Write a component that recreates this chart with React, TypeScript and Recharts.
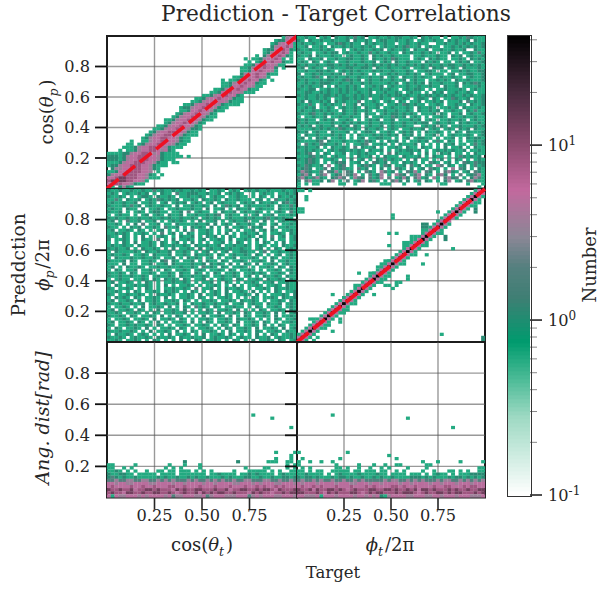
import React from "react";
import { ScatterChart, Scatter, XAxis, YAxis, ReferenceLine, ReferenceArea } from "recharts";

const FONT = "'DejaVu Serif', serif";
const INK = "#262626";

// level code (digit in the rows below) -> bin count
const levelCounts = [0, 0.6, 1.1, 1.9, 3.6, 5, 8, 13, 38];

const xTicks = [0.25, 0.5, 0.75];
const yTicks = [0.2, 0.4, 0.6, 0.8];
const identity = [0, 1];
const barTicks = [0.2, 0.3, 0.4, 0.5, 0.6, 0.7, 0.8, 0.9, 1, 2, 3, 4, 5, 6, 7, 8, 9, 10, 20, 30, 40, 0.1];
const barMajor = [0.1, 1, 10];
const barExp: Record<string, string> = { "0.1": "-1", "1": "0", "10": "1" };

// rows read top to bottom, "col:codes" segments; "." is an empty bin
const cosCos = [
  "46:1455", "44:122555", "43:1245551", "43:2455651", "41:122556521", "41:12455651", "39:1.24556521",
  "36:1.112455651.1", "37:1.1255655211", "36:11255655411", "35:1124556552.1", "35:1125565541",
  "35:2455655211", "33:1124556541", "30:1.1125565521.1", "30:112455655211", "30:11255655411",
  "28:112455655211", "27:112556554111", "25:11245565521", "23:1124556554211", "22:11245565542111",
  "20:112455655421111", "19:1224556554211", "19:112556554211", "18:12455655421", "17:124556554211",
  "15:1124556554211", "15:12455655421", "13:112455655421", "12:1124556554221", "11:1245566554211",
  "10:12455665542111", "9:1245566554211", "6:1..1145566554211", "5:11.1245566554211", "4:1112455665542111",
  "3:1.1124556654521", "0:1111224556654521111", "0:22212455666554211111.1", "0:222124556665542111",
  "0:1112455666554211.11", "0:1224556665542111", "1:2445566655421", "0:112556666554.1", "0:2455666655421.1",
  "0:55677666554111", "0:67777665541", "0:5666554211", "1:1.2421",
];

const phiPhi = [
  "0:11.1 47:158", "46:1585", "2:1 45:15851", "2:1 44:15851", "43:158511", "42:158511",
  "0:11 41:15851 47:2", "0:11 37:1 40:15851 47:2", "25:1 39:15851", "25:1 38:15851", "37:1585",
  "33:22 36:15851", "33:22 35:15851", "33:1 34:15851", "24:1 26:1 33:158511", "30:11 32:15851 39:2", "30:1 31:15851 39:2",
  "28:11 30:15851", "24:1 28:1 29:158511", "28:15851 41:1", "27:15851", "26:158511 34:1", "25:15851",
  "23:11 24:15851", "22:11 23:158511 33:1", "21:11 22:15851", "21:15851", "16:1 19:11 20:15851", "19:158511 29:1",
  "18:158511 29:1", "17:158511 26:11", "15:1 16:15851 23:11 26:1", "15:15851 25:1", "14:15851",
  "9:1 13:15851 20:1", "12:15851", "11:15851", "10:158511", "9:15851", "8:15851 13:1", "7:158511",
  "6:15851", "3:11 5:15851 11:1", "4:15851 11:1", "3:15851 8:1", "2:158511", "1:15851 9:1",
  "0:15851 38:1", "0:5851 5:1 49:2", "0:851 4:1 49:2",
];

const phiCos = [
  "11211.121.21121312.1121121221121.21211.1.1121321112",
  "21.21121121112.21121.1221121121.1211211.212112.2112",
  "1211211.112321211.21211211.11211211..11211212121121",
  "112.1121.211212112121.12112123112.1211.112121212121",
  "2112112121..1.121211212.121121.2112.112112112..2112",
  "1211.112122.121121131211211.212112121.112.1.1121312",
  "2112.2111211.121121.2121121111.112111211.212.121121",
  "11.2112.11211221121.2112132111.121.21211.1121.21211",
  "121.21.121.1121112112.121.2112111.2121.11.1212.1121",
  "21211211221212121121212121211212121211212211212121",
  "12.1211.121112211221.211211121.1121.212.121.2111211",
  "1121122121.12121211121211211121.11221.11.1121211221",
  "2.1121211212.121121.1.11212112121.12111.12.11221121",
  "1211231.212112112112112.121.21121211.1211211.121121",
  "21211121221123212.12112112112.1211.112121.211211121",
  "112121222112112112121111212.121212.21121112.2123211",
  "1212112.1.2112121.11212.12111211211211.2112.1111212",
  "21122.112112121211121121211.121221.1.11211121.12112",
  "11221121211212112112.1121121.1211.1.212.1121121.112",
  "21211212212121121212112121221211212212121211212112",
  "112112121.112212121.11211.1121.1221.21.1132112.1121",
  "12.211212.2121113.1121.121.21.112.11212.1112.312121",
  "21131.121211.112.211121.1121321211.1121.11211.21121",
  "11212.1121.121121.2112.11211121.21121.11212.2111211",
  "12112121211.21121121.1121121121.211212.11211.213112",
  "21123112121121121.211.1212212121.1112.21.112.121121",
  "1.112112.11211211.2.112113212.121.1.1121.2112112112",
  "21211.1212.1121.1.1212.112.111212.121.1121121.12112",
  "21211211121121212112112112112112122.121121.21211211",
  "1212.12112.212.21.12112.1211211..1212.21.1121112121",
  "11112121211321121.21121.121.112112.121.121.212.2112",
  "212.1211.21112.1.1221.1121.1212.1.21121.1.21.211121",
  "1.21121112121.1.21112121212.212.1.112.1.1211121.121",
  "12.1.212.1121.1.12.112211.1.12.12211.1.112.1.212212",
  "2111123.2111211121321.1.212.1.11212.131.21.1.112121",
  "1.3121321121.1.1123.1121.1.21112.1.1.1.212.11.13121",
  "212112.1.21121.3.2112.1.1121.211.211.1.2.112.1.2112",
  "1121211.1212212121.2112.1.1212212.1.121212112.11212",
  "2123.1.21.112.1121211.1.3.21112.1.2.1.212.11.1.2112",
  "11123121.1211.1.2112.1.2111.21112.1.211.1.1321212.1",
  "212321.1121.1.2.12.1.2131211.1.2.11.1.2.1.21.1.1213",
  "112321.1.1232.112.1.3212.11.2121.1.321.12.1.3213221",
  "2132112.4.123.1.12321.132.112.312.11.43.21.12.13121",
  "1232.113.212311.312.1.2.1.321.2.12.321.1.4.32.1.212",
  "2432113.3241.32.1.321.4312.1.3241.32.1.3421.12.3212",
  "1342.134.123.324.1.3124.1.432.134.21.342.1.3.123412",
  "34213421.2343.1432.3124.3.1242.3412.41.3423.1.24312",
  "2.34112.24.1.3.124.231.1.342.2.13.21.1.24.12.342112",
  "1.1.11.....11..1......111...1...1.....11.....1...1.",
  "1...............................................1..",
].map((r) => r.slice(0, 50));

const cosPhi = [
  "21121121121131211212112121.1121.121.12121121112112",
  "121.1211212.1.211.311222112112.12121..1.1211.11212",
  "21121.1.1221.21121.1121121.1211.11211.1.21.1.21121",
  "1131.2112.121321212.1121.21121.2112111.12.1.311212",
  "12112112.1121.12.1212.121.12.12111.1212.21121.2312",
  "211121312.1211211.2.1121121.2.13212.12111121.21131",
  "1211.211.2.1121.112111211.2.112.1.2112.12111.21121",
  "2112.1.121.12211.112.3.1211.1.2112.121121.1.121.31",
  "1.1211.1.12.121.2112.112112123.1211.1.12.112.11121",
  "212112112112112121121121.12121.121112121123121211",
  "12.1.3112.112.1.12121.1.2.112.1.12112.11.2.1.12112",
  "1121.1.2.3.112.11.211112112.2.121.21121.21.12.1121",
  "211.1.212.1121.3112.1.2121.2.1.2.1121.212..2.11211",
  "12.1121.21.1.12.1.1.2.3.1121.1.12.1.112.12.21.1121",
  "112121.1121.1.3.12.1.21.1121.1.2.1.12112.1.1121.21",
  "211.21.1.2.1.121.1.2112.1.212.1.21.1121.21.3.12.12",
  "2.1121.1.211.3.1.2.1121.12.1121.2.1121.2.1.2.11.12",
  "1.1.21.2.1121.21.12.1.2.1.1.112.1.21.1.1.21.1.2.11",
  "1211211.21121.21121121.2112112.1121121.121.11.2112",
  "212112.1.21121.1.2.1121.2.121121211211.12.1.21.121",
  "1.2111121.2112112.1121.1.12.1.12.112211.13.1121121",
  "121121.1121.21112.1121.21121.21.121121.21.1.12.121",
  "1.211121121121.112.1.2121.12.1.112.11121.1.21.1121",
  "21112.21.1121.23.21.112.1.211.21.1121.1121.2.11211",
  "111.2.11.112.112.211112112.2121.2.1.21.2.1121.12112",
  "12.1.21121.1121121121121.3121.21.1121.1.1121.21.211",
  "1.21.112.112.1.21.1121.121.1121.21.1121.1.1121.1212",
  "21121.21.1121.1121.211.21.1.21.1121.112121.1121.211",
  "21121121121.121121.21121121.1121121.12.1.21121.2112",
  "1.1211.1121.21.2121.21.112.1.1211.21.1121.21121.211",
  "12.1121.1.21.1.1121121.1.112.1.21.1.1121.112.11211",
  "1.21.1121121.1.2.1.1121.1.1121.1.2.1.1121.1121.2112",
  "21.1121.1.21.1.1121121.3.112.1.21121.1.1121.2112112",
  "1121.1.21.1121.2121.1.21.1.121.2.1121.2.1.1.21.1121",
  "21.1121121.1.21121.1121.2.1121.21.1121.2.1.11121.21",
  "1.2121.21.1121.2.1.1121.21.1.1121.1.1.21.1121.21121",
  "12.1121.2.1121.1121.21.1.1121.1121.21121.1.1121.212",
  "2112112112.12112112.1.2112112112.112.1211.2112.1211",
  "1.1121.1.2.1121.2.1.21.3121.21.11211.1.21.1121.1211",
  "12.1121.21.1.2.1121.2.1.1.21.1121.2.1.1.21.1121.21",
  "1121.1121.1.21.112112.1.1121.2.1121.21.1121.2.1.12",
  "21121.21.1121.2.1.21.1.1.2.1121.2.1.21.1121.2.1121",
  "1.1121.1121.2.1121.21.1.1121.1121.21121.1.1.21.1121",
  "12.1121.21.1.2.1.1121.2.1.21.1121.2.1121.21.1.1121",
  "21.112121121.21.1.1121.1121.1.21.21.1121.2.1.21.1121",
  "1.21.1121.2.1.1121.21.1.1121.1.21.1121.2.1121.2.121",
  "21121121.1.2.1121.2.1.21.1121.1.2.1121.21.1121.2112",
  "1.21121.121.1.1.2.1121.1.2.1121.21.1.1.2.1.21.11212",
  "21121.121121.21121.2112112.121121.1211.2112.121121",
  "1121.1121.1.21.1.1.2.1.21.1121.1.21.1.2.1121.21.121",
].map((r) => r.slice(0, 50));

const distCos = [
  "38:1", "43:1", "", "", "48:1", "", "", "", "", "", "", "",
  "44:1 49:1", "48:1", "44:1 48:1", "20:2 34:2 42:11 44:1 47:11",
  "11.....1.." + "......1..." + "1...1....." + ".........." + ".......1.1",
  "11..1.1..." + ".....1.1.1" + "....1....." + "......1..." + ".11....1.1",
  "1121.1.1.." + "1..11.11.1" + "11.1.1.1.." + "...1...111" + "11.1.1..11",
  "2112211.11" + "111.1111.1" + "111111.112" + "1111.11212" + "1111.12111",
  "2321211211" + "1112121121" + "1212112111" + "2121112211" + "2112112212",
  "3343344334" + "4334343433" + "3434334343" + "4334334433" + "3443343343",
  "5545544555" + "5445555455" + "4555545545" + "5554455545" + "4555445554",
  "5655556556" + "5565556655" + "6555655565" + "5565556556" + "5655656555",
  "7667667566" + "7767666576" + "7667766676" + "6756677667" + "6776576667",
  "6766577667" + "6677667656" + "7667576767" + "7667666576" + "7665667677",
  "5154455545" + "4555545344" + "5554453455" + "5444555345" + "4555445554",
];

const distPhi = [
  "9:1", "29:1", "", "", "41:1", "", "", "", "", "", "", "",
  "0:1 13:1", "24:1", "1:1 11:1 26:1", "0:1 3:1 6:1 9:1 33:1 37:1 43:1 49:1",
  "1........." + "1.....1..." + "1..1..11.." + "....11...." + "..........",
  ".1.1......" + "11.1..1..1" + "..1.1....1" + "....1....." + "........11",
  "11.1.11..1" + "1111.11.11" + "1.11..1.1." + "...1..1..." + "11.1.1..11",
  "1121111.1." + "1211112111" + "1211.1111." + "111.1.1211" + ".1.1112222",
  "2122121112" + "1221211211" + "2121121111" + "2221212111" + "2122121212",
  "3433434334" + "3343343433" + "3334344334" + "3434333434" + "4334343434",
  "5455545555" + "4555445554" + "5545555455" + "4555545545" + "5545554555",
  "5655656555" + "6555655565" + "6555566565" + "5655556556" + "6555656655",
  "7667576677" + "6765676667" + "7667767667" + "6757767666" + "7676676677",
  "7766676576" + "7666776567" + "6776667677" + "7656766776" + "7677666767",
  "5544451555" + "4555545545" + "4521455554" + "4555445545" + "5545554445",
];

const colorStops: [number, string][] = [
  [0, "#ffffff"], [0.17, "#9ed9c3"], [0.25, "#4ebc98"], [0.333, "#009b6e"], [0.43, "#3f7f74"],
  [0.496, "#55807f"], [0.561, "#8b8796"], [0.663, "#c2699e"], [0.761, "#8a4a6e"], [0.87, "#4a2c40"], [1, "#000000"],
];
const BAR_MIN = 0.1;
const BAR_MAX = 42.6;
const BAR_STEPS = 115;

function hexToRgb(h: string) {
  return [1, 3, 5].map((i) => parseInt(h.slice(i, i + 2), 16));
}
function colorAt(f: number) {
  for (let i = 1; i < colorStops.length; i++) {
    if (f <= colorStops[i][0]) {
      const [f0, c0] = colorStops[i - 1];
      const [f1, c1] = colorStops[i];
      const t = (f - f0) / (f1 - f0);
      const a = hexToRgb(c0);
      const b = hexToRgb(c1);
      return `rgb(${a.map((v, k) => Math.round(v + (b[k] - v) * t)).join(",")})`;
    }
  }
  return "#000";
}
function colorOf(count: number) {
  return colorAt(Math.log10(count / BAR_MIN) / Math.log10(BAR_MAX / BAR_MIN));
}

function parseRows(rows: string[], rowOffset = 0) {
  const cells: { x: number; y: number; count: number }[] = [];
  rows.forEach((row, ri) => {
    const r = ri + rowOffset;
    if (!row) return;
    row.split(" ").forEach((seg) => {
      const parts = seg.split(":");
      const start = parts.length > 1 ? Number(parts[0]) : 0;
      const codes = parts[parts.length - 1];
      for (let i = 0; i < codes.length; i++) {
        const code = codes[i];
        if (code === ".") continue;
        cells.push({ x: (start + i + 0.5) / 50, y: (49 - r + 0.5) / 50, count: levelCounts[Number(code)] });
      }
    });
  });
  return cells;
}

type PanelProps = {
  left: number; top: number; w: number; h: number; rows: string[]; rowOffset?: number;
  xAxis?: boolean; yLabels?: boolean; diagonal?: boolean;
};

const Y_W = 55;
const X_H = 40;

function Panel({ left, top, w, h, rows, rowOffset = 0, xAxis, yLabels, diagonal }: PanelProps) {
  const cells = parseRows(rows, rowOffset);
  const bw = w / 50;
  const bh = h / 50;
  const chartW = w + Y_W + 4;
  const chartH = h + 4 + (xAxis ? X_H : 0);
  const grid = { stroke: "#555555", strokeOpacity: 0.6, strokeWidth: 1.4 };
  return (
    <div style={{ position: "absolute", left: left - Y_W, top: top - 2, width: chartW, height: chartH }}>
      <ScatterChart width={chartW} height={chartH} margin={{ top: 2, right: 4, bottom: xAxis ? 0 : 2, left: 0 }}>
        <XAxis
          type="number" dataKey="x" domain={[0, 1]} ticks={xTicks} hide={!xAxis} height={X_H} interval={0}
          tickSize={12} tickMargin={0} tickFormatter={(v: number) => v.toFixed(2)} axisLine={false}
          tickLine={{ stroke: INK, strokeWidth: 1.6 }} tick={{ fontFamily: FONT, fontSize: 16.2, fill: INK }}
        />
        <YAxis
          type="number" dataKey="y" domain={[0, 1]} ticks={yTicks} width={Y_W} interval={0}
          tickSize={12} tickMargin={5} axisLine={false} tickFormatter={(v: number) => (yLabels ? v.toFixed(1) : "")}
          tickLine={{ stroke: "#111", strokeWidth: 1.8 }} tick={{ fontFamily: FONT, fontSize: 16.2, fill: INK }}
        />
        <Scatter
          data={cells} isAnimationActive={false}
          shape={(p: any) => (
            <rect x={p.cx - bw / 2 - 0.1} y={p.cy - bh / 2 - 0.1} width={bw + 0.2} height={bh + 0.2} fill={colorOf(p.payload.count)} />
          )}
        />
        {xTicks.map((t) => <ReferenceLine key={"x" + t} x={t} {...grid} />)}
        {yTicks.map((t) => <ReferenceLine key={"y" + t} y={t} {...grid} />)}
        {diagonal && (
          <Scatter
            data={identity.map((v) => ({ x: v, y: v }))} isAnimationActive={false} shape={() => <g />}
            line={{ stroke: "#ee1122", strokeWidth: 3.6, strokeDasharray: "15 6" }}
          />
        )}
        <ReferenceArea x1={0} x2={1} y1={0} y2={1} fill="none" stroke="#1c1c1c" strokeWidth={2} />
      </ScatterChart>
    </div>
  );
}

function BarTick({ x, y, payload }: any) {
  const v = payload.value as number;
  const major = barMajor.includes(v);
  return (
    <g>
      <line x1={x} x2={x + (major ? 12 : 7)} y1={y} y2={y} stroke={major ? INK : "#888"} strokeWidth={major ? 1.6 : 1} />
      {major && (
        <text x={x + 18} y={y + 6} fontFamily={FONT} fontSize={16.2} fill={INK} textAnchor="start">
          10<tspan dy={-6} fontSize={12}>{barExp[String(v)]}</tspan>
        </text>
      )}
    </g>
  );
}

function ColorBar() {
  const W = 23;
  const H = 460;
  const PAD_T = 10;
  const PAD_B = 16;
  const levels = Array.from({ length: BAR_STEPS }, (_, i) => (i + 0.5) / BAR_STEPS);
  const data = levels.map((f) => ({ x: 0.5, y: BAR_MIN * Math.pow(BAR_MAX / BAR_MIN, f), f }));
  const h = H / BAR_STEPS;
  return (
    <>
      <div style={{ position: "absolute", left: 507, top: 35 - PAD_T, width: 92, height: H + PAD_T + PAD_B }}>
        <ScatterChart width={92} height={H + PAD_T + PAD_B} margin={{ top: PAD_T, right: 0, bottom: PAD_B, left: 0 }}>
          <XAxis type="number" dataKey="x" domain={[0, 1]} hide />
          <YAxis
            type="number" dataKey="y" scale="log" domain={[BAR_MIN, BAR_MAX]} orientation="right" width={92 - W}
            ticks={barTicks} interval={0} axisLine={false} tickLine={false} tickSize={0} tickMargin={0} tick={<BarTick />} allowDataOverflow
          />
          <Scatter
            data={data} isAnimationActive={false}
            shape={(p: any) => <rect x={p.cx - W / 2} y={p.cy - h / 2 - 0.3} width={W} height={h + 0.6} fill={colorAt(p.payload.f)} />}
          />
        </ScatterChart>
      </div>
      <div style={{ position: "absolute", left: 506.5, top: 34.5, width: W, height: H, border: "1.5px solid #333" }} />
    </>
  );
}

function Labels() {
  const t = { fontFamily: FONT, fill: INK, textAnchor: "middle" as const };
  const sub = (s: string, k = 5) => (
    <>
      <tspan dy={k} fontSize={12.5} fontStyle="italic">{s}</tspan>
      <tspan dy={-k}>{"\u200a"}</tspan>
    </>
  );
  return (
    <svg width={599} height={590} style={{ position: "absolute", left: 0, top: 0, pointerEvents: "none" }}>
      <text x={336} y={21} fontSize={21.7} {...t}>Prediction - Target Correlations</text>
      <text x={202} y={551} fontSize={18} {...t}>cos(<tspan fontStyle="italic">θ</tspan>{sub("t")})</text>
      <text x={390} y={551} fontSize={18} {...t}><tspan fontStyle="italic">ϕ</tspan>{sub("t")}/2π</text>
      <text x={333} y={578} fontSize={16.5} {...t}>Target</text>
      <text transform="translate(53,112) rotate(-90)" fontSize={18} {...t}>cos(<tspan fontStyle="italic">θ</tspan>{sub("p")})</text>
      <text transform="translate(25,265) rotate(-90)" fontSize={18.6} {...t}>Preddction</text>
      <text transform="translate(49,265) rotate(-90)" fontSize={18} {...t}><tspan fontStyle="italic">ϕ</tspan>{sub("p")}/2π</text>
      <text transform="translate(49,418) rotate(-90)" fontSize={19} fontStyle="italic" {...t}>Ang. dist[rad]</text>
      <text transform="translate(596,265) rotate(-90)" fontSize={18} {...t}>Number</text>
    </svg>
  );
}

export default function App() {
  return (
    <div style={{ position: "absolute", left: 0, top: 0, width: 599, height: 590, background: "#fff", overflow: "hidden" }}>
      <Panel left={107} top={36} w={190} h={152.5} rows={cosCos} yLabels diagonal />
      <Panel left={107} top={188.5} w={190} h={153} rows={cosPhi} yLabels />
      <Panel left={107} top={341.5} w={190} h={153.5} rows={distCos} rowOffset={23} yLabels xAxis />
      <Panel left={297} top={36} w={188} h={152.5} rows={phiCos} />
      <Panel left={297} top={188.5} w={188} h={153} rows={phiPhi} diagonal />
      <Panel left={297} top={341.5} w={188} h={153.5} rows={distPhi} rowOffset={23} xAxis />
      <ColorBar />
      <Labels />
    </div>
  );
}
